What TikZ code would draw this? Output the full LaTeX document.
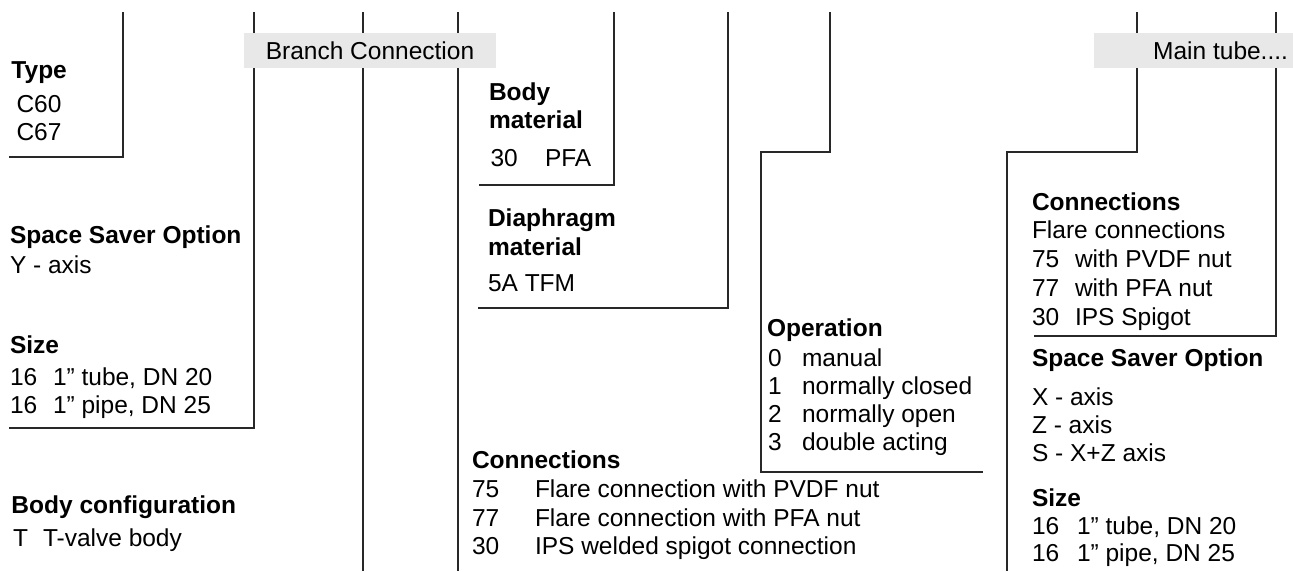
\documentclass[tikz,border=0pt]{standalone}
\usepackage{fontspec}
\setmainfont{Liberation Sans}
\definecolor{boxgray}{RGB}{232,232,232}
\definecolor{linec}{RGB}{40,40,40}
\begin{document}
\begin{tikzpicture}[x=1pt,y=-1pt,
  txt/.style={inner sep=0pt,outer sep=0pt,anchor=base west,font=\fontsize{24.5}{28}\selectfont},
  hd/.style={txt,font=\fontsize{24.5}{28}\selectfont\bfseries},
  ln/.style={line width=1.3pt,draw=linec,line join=miter},
  gbox/.style={fill=boxgray,draw=none}]
\useasboundingbox (0,0) rectangle (1293,571);
% ---------- connector lines ----------
\coordinate (a0) at (123,12);  \coordinate (a1) at (123,157); \coordinate (a2) at (9,157);
\coordinate (b0) at (254,12);  \coordinate (b1) at (254,428); \coordinate (b2) at (9,428);
\coordinate (c0) at (363,12);  \coordinate (c1) at (363,571);
\coordinate (d0) at (458,12);  \coordinate (d1) at (458,571);
\coordinate (e0) at (614,12);  \coordinate (e1) at (614,185); \coordinate (e2) at (479,185);
\coordinate (f0) at (728,12);  \coordinate (f1) at (728,308); \coordinate (f2) at (478,308);
\coordinate (g0) at (830,12);  \coordinate (g1) at (830,152); \coordinate (g2) at (761,152);
\coordinate (g3) at (761,472); \coordinate (g4) at (983,472);
\coordinate (h0) at (1137,12); \coordinate (h1) at (1137,152); \coordinate (h2) at (1007,152);
\coordinate (h3) at (1007,571);
\coordinate (i0) at (1276,12); \coordinate (i1) at (1276,336); \coordinate (i2) at (1034,336);
\draw[ln] (a0) -- (a1) -- (a2);
\draw[ln] (b0) -- (b1) -- (b2);
\draw[ln] (c0) -- (c1);
\draw[ln] (d0) -- (d1);
\draw[ln] (e0) -- (e1) -- (e2);
\draw[ln] (f0) -- (f1) -- (f2);
\draw[ln] (g0) -- (g1) -- (g2) -- (g3) -- (g4);
\draw[ln] (h0) -- (h1) -- (h2) -- (h3);
\draw[ln] (i0) -- (i1) -- (i2);
% ---------- gray label boxes ----------
\fill[gbox] (244,33) rectangle (496,68);
\fill[gbox] (1094,33) rectangle (1293,68);
\node[txt,anchor=base] (branch) at (370,59) {Branch Connection};
\node[txt,anchor=base east] (maintube) at (1288,59) {Main tube....};
% ---------- left column ----------
\node[hd] (typeh) at (11.5,78) {Type};
\node[txt] (c60) at (16.5,112) {C60};
\node[txt] (c67) at (16.5,140) {C67};
\node[hd] (ssoh) at (10,243) {Space Saver Option};
\node[txt] (yax) at (10,273) {Y - axis};
\node[hd] (sizeh) at (10,353) {Size};
\node[txt] (s1a) at (10,385) {16};
\node[txt] (s1b) at (53,385) {1” tube, DN 20};
\node[txt] (s2a) at (10,413) {16};
\node[txt] (s2b) at (53,413) {1” pipe, DN 25};
\node[hd] (bch) at (11.5,513) {Body configuration};
\node[txt] (bca) at (13,546) {T};
\node[txt] (bcb) at (43,546) {T-valve body};
% ---------- middle column ----------
\node[hd] (bmh1) at (489,100.5) {Body};
\node[hd] (bmh2) at (489,128.5) {material};
\node[txt] (bma) at (490.5,166) {30};
\node[txt] (bmb) at (545,166) {PFA};
\node[hd] (dmh1) at (488,226.5) {Diaphragm};
\node[hd] (dmh2) at (488,255) {material};
\node[txt] (dma) at (488,291.5) {5A TFM};
\node[hd] (conh) at (472,468) {Connections};
\node[txt] (con1a) at (472,497) {75};
\node[txt] (con1b) at (535,497) {Flare connection with PVDF nut};
\node[txt] (con2a) at (472,526) {77};
\node[txt] (con2b) at (535,526) {Flare connection with PFA nut};
\node[txt] (con3a) at (472,554) {30};
\node[txt] (con3b) at (535,554) {IPS welded spigot connection};
% ---------- operation ----------
\node[hd] (oph) at (767,336) {Operation};
\node[txt] (op0a) at (768,366) {0};
\node[txt] (op0b) at (802,366) {manual};
\node[txt] (op1a) at (768,394) {1};
\node[txt] (op1b) at (802,394) {normally closed};
\node[txt] (op2a) at (768,422) {2};
\node[txt] (op2b) at (802,422) {normally open};
\node[txt] (op3a) at (768,450) {3};
\node[txt] (op3b) at (802,450) {double acting};
% ---------- right column ----------
\node[hd] (rconh) at (1032,210) {Connections};
\node[txt] (rfl) at (1032,238) {Flare connections};
\node[txt] (r1a) at (1032,267) {75};
\node[txt] (r1b) at (1075,267) {with PVDF nut};
\node[txt] (r2a) at (1032,296) {77};
\node[txt] (r2b) at (1075,296) {with PFA nut};
\node[txt] (r3a) at (1032,325) {30};
\node[txt] (r3b) at (1075,325) {IPS Spigot};
\node[hd] (rssoh) at (1032,366) {Space Saver Option};
\node[txt] (rx) at (1032,405) {X - axis};
\node[txt] (rz) at (1032,433) {Z - axis};
\node[txt] (rs) at (1032,461) {S - X+Z axis};
\node[hd] (rsizeh) at (1032,506) {Size};
\node[txt] (rs1a) at (1032,534) {16};
\node[txt] (rs1b) at (1077,534) {1” tube, DN 20};
\node[txt] (rs2a) at (1032,561) {16};
\node[txt] (rs2b) at (1077,561) {1” pipe, DN 25};
\end{tikzpicture}
\end{document}
